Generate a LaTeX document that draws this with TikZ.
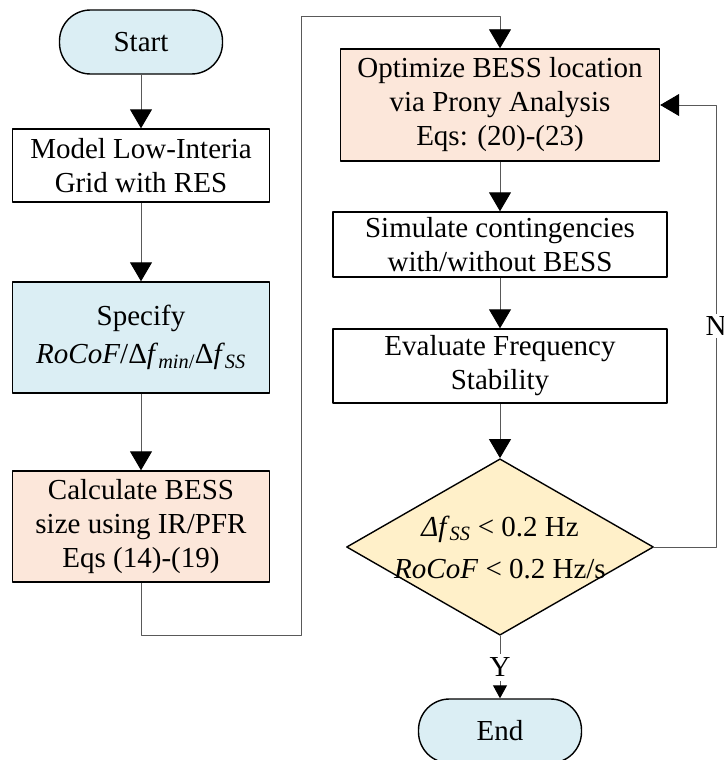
\documentclass[tikz,border=0pt]{standalone}
\usepackage{fontspec}
\setmainfont{Liberation Serif}
\usetikzlibrary{arrows.meta,shapes.geometric}
\definecolor{termblue}{RGB}{219,238,244}
\definecolor{peach}{RGB}{252,231,218}
\definecolor{cream}{RGB}{255,240,201}
\tikzset{
  box/.style={draw=black, line width=1.4pt, rectangle, align=center, inner sep=0pt},
  term/.style={draw=black, line width=1.4pt, rectangle, rounded corners=31pt, fill=termblue, minimum width=163pt, minimum height=64pt},
  decide/.style={draw=black, line width=1.4pt, diamond, aspect=1.74, fill=cream, align=center, inner xsep=0pt, inner ysep=-4pt},
  link/.style={draw=black!65, line width=0.9pt},
}
\begin{document}
\begin{tikzpicture}[x=1pt, y=-1pt, font=\fontsize{29}{34}\selectfont, line join=round, >={Triangle[width=22pt,length=19pt,color=black]}]
\def \colL{141};
\def \colR{500};
\useasboundingbox (0,0) rectangle (723,760);
% left column
\node[term] (start) at (\colL,42) {Start};
\node[box, minimum width=257pt, minimum height=73pt] (model) at (\colL,165.5) {Model Low-Interia\\Grid with RES};
\node[box, fill=termblue, minimum width=257pt, minimum height=111pt, font=\fontsize{29}{38}\selectfont] (spec) at (\colL,337.5) {Specify\\\textit{RoCoF}/Δ\textit{f}\textsubscript{\textit{min}/}Δ\textit{f}\textsubscript{\textit{SS}}};
\node[box, fill=peach, minimum width=257pt, minimum height=111pt] (calc) at (\colL,526.5) {Calculate BESS\\size using IR/PFR\\Eqs (14)-(19)};
% right column
\node[box, fill=peach, minimum width=319pt, minimum height=112pt] (opt) at (\colR,105) {Optimize BESS location\\via Prony Analysis\\Eqs: (20)-(23)};
\node[box, minimum width=334pt, minimum height=65pt] (sim) at (\colR,244.5) {Simulate contingencies\\with/without BESS};
\node[box, minimum width=334pt, minimum height=74pt] (eval) at (\colR,366) {Evaluate Frequency\\Stability};
\node[decide, font=\fontsize{29}{42}\selectfont] (check) at (\colR,547) {\textit{Δf}\textsubscript{\textit{SS}} < 0.2 Hz\\\textit{RoCoF} < 0.2 Hz/s};
\node[term] (stop) at (\colR,731) {End};
\coordinate (low) at (301,635);
\coordinate (high) at (301,16);
\coordinate (back) at (716,547);
\draw[link,->] (start) -- (model);
\draw[link,->] (model) -- (spec);
\draw[link,->] (spec) -- (calc);
\draw[link,->] (calc.south) |- (low) -- (high) -| (opt.north);
\draw[link,->] (opt) -- (sim);
\draw[link,->] (sim) -- (eval);
\draw[link,->] (eval) -- (check);
\draw[link,->] (check.east) -- (back) |- node[pos=0.25, fill=white, inner sep=3pt] {N} (opt.east);
\draw[link,-{Triangle[width=14pt,length=13pt,color=black]}] (check.south) -- node[fill=white, inner sep=4pt] {Y} (stop.north);
\end{tikzpicture}
\end{document}
